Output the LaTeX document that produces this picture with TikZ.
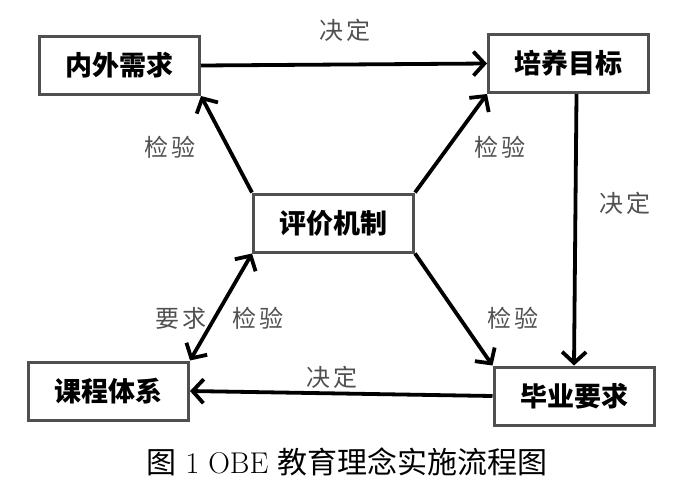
\documentclass[tikz,border=0pt]{standalone}
\usepackage{fontspec}
\usetikzlibrary{arrows.meta}
\newfontfamily\cjk{Noto Sans CJK SC}
\definecolor{boxline}{HTML}{505050}
\definecolor{labgray}{HTML}{505050}
\begin{document}
\begin{tikzpicture}[x=1pt,y=-1pt,
  box/.style={draw=boxline, line width=3pt, fill=white, minimum width=160pt, minimum height=58pt, inner sep=0pt, font=\cjk\bfseries\fontsize{27}{30}\selectfont},
  lab/.style={text=labgray, inner sep=0pt, font=\cjk\fontsize{24}{27}\selectfont},
  arr/.style={line width=3.8pt, -{Straight Barb[length=11pt,width=24pt]}},
  darr/.style={line width=3.8pt, {Straight Barb[length=11pt,width=24pt]}-{Straight Barb[length=11pt,width=24pt]}}]
\path[use as bounding box, fill=white] (0,0) rectangle (700,480);
\node[box] (nw) at (119.5,65.5) {内外需求};
\node[box] (pm) at (568.5,63.5) {培养目标};
\node[box] (pj) at (333.5,223) {评价机制};
\node[box] (kc) at (108.5,391) {课程体系};
\node[box] (by) at (574,396) {毕业要求};
\draw[arr] (nw.east) -- (pm.west);
\draw[arr] (pj.north west) -- (nw.south east);
\draw[arr] (pj.north east) -- (pm.south west);
\draw[arr] (pm.south) ++(8,0) coordinate (pms) (pms) -- (by.north);
\draw[arr] (pj.south east) -- (by.north west);
\draw[arr] (by.west) -- (kc.east);
\draw[darr] (pj.south west) -- (kc.north east);
\node[lab] (l1) at (345,30) {决\,定};
\node[lab] (l2) at (170,147) {检\,验};
\node[lab] (l3) at (500,147) {检\,验};
\node[lab] (l4) at (625,203) {决\,定};
\node[lab] (l5) at (513,318) {检\,验};
\node[lab] (l6) at (332,377) {决\,定};
\node[lab] (l7) at (181,318) {要\,求};
\node[lab] (l8) at (258,318) {检\,验};
\node[inner sep=0pt, font=\cjk\fontsize{30}{33}\selectfont] (cap) at (347,462) {图\hspace{9pt}{\rmfamily 1\hspace{9pt}OBE}\hspace{9pt}教育理念实施流程图};
\end{tikzpicture}
\end{document}
